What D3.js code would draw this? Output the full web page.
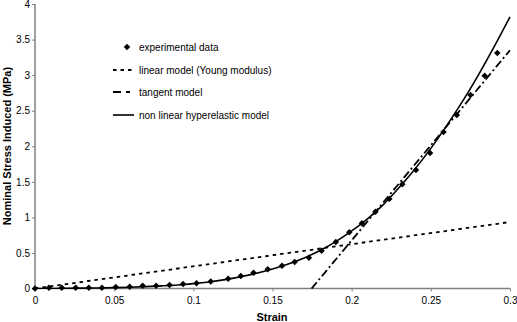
<!DOCTYPE html>
<html><head><meta charset="utf-8">
<script src="https://cdn.jsdelivr.net/npm/d3@7"></script>
<style>body{margin:0;background:#fff}svg{display:block}text{font-family:"Liberation Sans",Arial,sans-serif}</style>
</head><body>
<svg id="c" width="517" height="322"></svg>
<script>
const xTicks = [0, 0.05, 0.1, 0.15, 0.2, 0.25, 0.3];
const yTicks = [0, 0.5, 1, 1.5, 2, 2.5, 3, 3.5, 4];
const expStrain = [0, 0.0088, 0.0169, 0.0257, 0.034, 0.0423, 0.051, 0.0598, 0.068, 0.0765, 0.085, 0.0935, 0.102, 0.111, 0.122, 0.130, 0.138, 0.147, 0.156, 0.164, 0.173, 0.181, 0.190, 0.1985, 0.2065, 0.215, 0.2238, 0.232, 0.2406, 0.2495, 0.258, 0.2664, 0.275, 0.284, 0.292];
const expStress = [0, 0.01, 0.01, 0.01, 0.01, 0.01, 0.02, 0.025, 0.04, 0.04, 0.05, 0.063, 0.073, 0.1, 0.138, 0.176, 0.222, 0.27, 0.32, 0.372, 0.433, 0.53, 0.654, 0.79, 0.917, 1.08, 1.26, 1.465, 1.667, 1.906, 2.2, 2.44, 2.72, 2.99, 3.31];
const hyperStrain = [0, 0.01, 0.02, 0.03, 0.04, 0.05, 0.06, 0.07, 0.08, 0.09, 0.10, 0.11, 0.12, 0.13, 0.14, 0.15, 0.16, 0.17, 0.18, 0.19, 0.20, 0.21, 0.22, 0.23, 0.24, 0.25, 0.26, 0.27, 0.28, 0.29, 0.30];
const hyperStress = [0, 0, 0.002, 0.005, 0.008, 0.012, 0.018, 0.026, 0.037, 0.05, 0.068, 0.092, 0.125, 0.165, 0.215, 0.275, 0.345, 0.43, 0.535, 0.66, 0.81, 0.98, 1.18, 1.42, 1.68, 1.97, 2.29, 2.63, 3.0, 3.4, 3.82];
const linearStrain = [0, 0.3];
const linearStress = [0, 0.935];
const tangentStrain = [0.1747, 0.3];
const tangentStress = [0, 3.35];
const legendLabels = ["experimental data", "linear model (Young modulus)", "tangent model", "non linear hyperelastic model"];

const svg = d3.select("#c");
const x = d3.scaleLinear().domain([0, 0.3]).range([35, 510]);
const y = d3.scaleLinear().domain([0, 4]).range([288.5, 4]);
const gray = "#808080";

const xAxis = svg.append("g").attr("transform", "translate(0,288.5)")
  .call(d3.axisBottom(x).tickValues(xTicks).tickSize(3).tickPadding(5).tickFormat(d3.format("")));
const yAxis = svg.append("g").attr("transform", "translate(35,0)")
  .call(d3.axisLeft(y).tickValues(yTicks).tickSize(3).tickPadding(2).tickFormat(d3.format("")));
[xAxis, yAxis].forEach(g => {
  g.select(".domain").attr("stroke", gray).attr("stroke-width", 1.5);
  g.selectAll(".tick line").attr("stroke", gray);
  g.selectAll(".tick text").attr("fill", "#000").style("font-size", "10px").style("font-family", "Liberation Sans, Arial, sans-serif");
});
xAxis.select(".domain").attr("d", "M35,0H510");
yAxis.select(".domain").attr("d", "M0,288.5V4");

const clip = svg.append("clipPath").attr("id", "pc").append("rect").attr("x", 35).attr("y", 4).attr("width", 480).attr("height", 285);
const plot = svg.append("g").attr("clip-path", "url(#pc)");

const line = d3.line().x(d => x(d[0])).y(d => y(d[1]));
plot.append("path").datum(d3.zip(linearStrain, linearStress)).attr("d", line)
  .attr("fill", "none").attr("stroke", "#000").attr("stroke-width", 1.8).attr("stroke-dasharray", "3.5,4");
plot.append("path").datum(d3.zip(tangentStrain, tangentStress)).attr("d", line)
  .attr("fill", "none").attr("stroke", "#000").attr("stroke-width", 1.8).attr("stroke-dasharray", "8,3,2,3");
plot.append("path").datum(d3.zip(hyperStrain, hyperStress)).attr("d", line.curve(d3.curveMonotoneX))
  .attr("fill", "none").attr("stroke", "#000").attr("stroke-width", 1.6);

const diamond = d3.symbol().type(d3.symbolSquare).size(21);
svg.append("g").selectAll("path").data(d3.zip(expStrain, expStress)).join("path")
  .attr("transform", d => `translate(${x(d[0])},${y(d[1])}) rotate(45)`).attr("d", diamond).attr("fill", "#000");

// legend
const lg = svg.append("g");
const ly = [47, 70, 92, 115];
lg.append("path").attr("transform", `translate(127,${ly[0]}) rotate(45)`).attr("d", diamond).attr("fill", "#000");
lg.append("line").attr("x1", 113).attr("x2", 134).attr("y1", ly[1]).attr("y2", ly[1]).attr("stroke", "#000").attr("stroke-width", 1.8).attr("stroke-dasharray", "3.5,4");
lg.append("line").attr("x1", 113).attr("x2", 134).attr("y1", ly[2]).attr("y2", ly[2]).attr("stroke", "#000").attr("stroke-width", 1.8).attr("stroke-dasharray", "8,5,4,10");
lg.append("line").attr("x1", 113).attr("x2", 134).attr("y1", ly[3]).attr("y2", ly[3]).attr("stroke", "#000").attr("stroke-width", 1.6);
lg.selectAll("text").data(legendLabels).join("text")
  .attr("x", d => 139).attr("y", (d, i) => ly[i] + 3.5).style("font-size", "10px").text(d => d);

svg.append("text").attr("x", 272).attr("y", 322 - 1).attr("text-anchor", "middle")
  .style("font-size", "11px").style("font-weight", "bold").text("Strain");
svg.append("text").attr("transform", "translate(11,146) rotate(-90)").attr("text-anchor", "middle")
  .style("font-size", "11px").style("font-weight", "bold").text("Nominal Stress Induced (MPa)");
</script>
</body></html>
